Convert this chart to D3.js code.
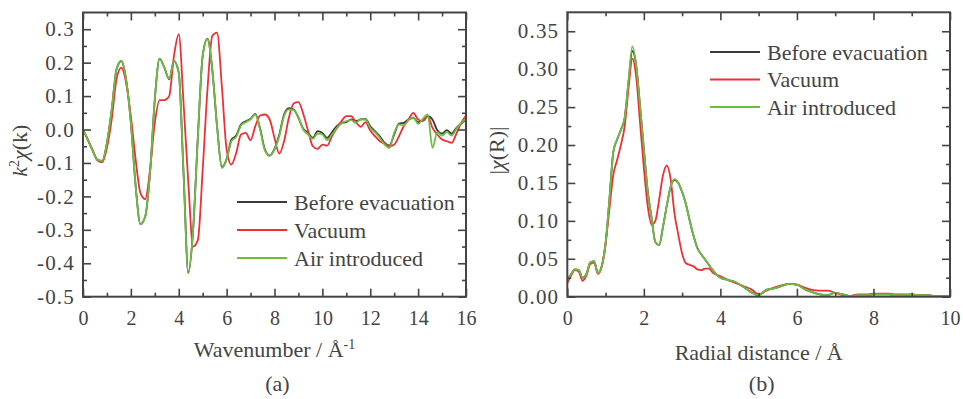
<!DOCTYPE html>
<html>
<head>
<meta charset="utf-8">
<script src="https://cdnjs.cloudflare.com/ajax/libs/d3/7.8.5/d3.min.js"></script>
<style>
  body { margin: 0; background: #fff; }
  svg { display: block; font-family: "Liberation Serif", "Times New Roman", serif; }
</style>
</head>
<body>
<svg id="chart" width="963" height="399"></svg>
<script>
// Panel (a): k-space EXAFS, sampled every 0.2 A^-1 from 0 to 16
var kValues = d3.range(0, 81).map(function(i) { return +(i * 0.2).toFixed(1); });

var kBefore = [
   0.000,-0.030,-0.062,-0.090,-0.094,-0.040, 0.060, 0.180, 0.205, 0.150,
   0.020,-0.170,-0.283,-0.260,-0.130, 0.090, 0.212, 0.185, 0.150, 0.205,
   0.170,-0.130,-0.428,-0.300,-0.020, 0.220, 0.272, 0.180, 0.010,-0.112,
  -0.088,-0.030,-0.018, 0.015, 0.025, 0.032, 0.047, 0.002,-0.060,-0.078,
  -0.058,-0.015, 0.045, 0.064, 0.060, 0.035, 0.002,-0.010,-0.025,-0.005,
  -0.010,-0.025,-0.008, 0.010, 0.020, 0.022, 0.030, 0.025, 0.030, 0.032,
   0.010,-0.005,-0.020,-0.040,-0.048,-0.015, 0.018, 0.020, 0.030, 0.035,
   0.022, 0.028, 0.040, 0.030,-0.002,-0.012,-0.002,-0.012, 0.005, 0.018,
   0.030];

var kVacuum = [
   0.000,-0.030,-0.062,-0.092,-0.098,-0.055, 0.030, 0.150, 0.185, 0.140,
   0.040,-0.090,-0.190,-0.208,-0.120, 0.020, 0.088, 0.088, 0.100, 0.220,
   0.285, 0.080,-0.160,-0.350,-0.330,-0.120, 0.120, 0.280, 0.290, 0.130,
  -0.060,-0.105,-0.070,-0.015,-0.010,-0.032, 0.010, 0.042, 0.045, 0.030,
  -0.025,-0.072,-0.035, 0.035, 0.078, 0.082, 0.047,-0.003,-0.050,-0.058,
  -0.045,-0.048,-0.020, 0.004, 0.025, 0.040, 0.040, 0.022, 0.008, 0.022,
  -0.003,-0.020,-0.035,-0.042,-0.050,-0.045,-0.020, 0.010, 0.030, 0.050,
   0.030, 0.025, 0.040, 0.005,-0.015,-0.030,-0.035,-0.040,-0.012, 0.020,
   0.042];

var kAir = [
   0.000,-0.030,-0.062,-0.090,-0.094,-0.040, 0.060, 0.180, 0.205, 0.150,
   0.020,-0.170,-0.283,-0.260,-0.130, 0.090, 0.212, 0.185, 0.152, 0.205,
   0.170,-0.130,-0.430,-0.300,-0.020, 0.220, 0.270, 0.180, 0.010,-0.115,
  -0.090,-0.035,-0.022, 0.012, 0.022, 0.030, 0.045, 0.000,-0.063,-0.077,
  -0.060,-0.020, 0.040, 0.060, 0.058, 0.037, 0.000,-0.015,-0.028,-0.012,
  -0.015,-0.032,-0.015, 0.004, 0.018, 0.025, 0.028, 0.020, 0.030, 0.030,
   0.005,-0.008,-0.025,-0.045,-0.055,-0.010, 0.015, 0.012, 0.028, 0.036,
   0.017, 0.032, 0.045,-0.055,-0.008,-0.018,-0.008,-0.018, 0.002, 0.020,
   0.032];

// Panel (b): R-space magnitude, 0.1 A steps to 4 A then 0.2 A steps to 10 A
var rValues = d3.range(0, 41).map(function(i) { return +(i * 0.1).toFixed(1); })
  .concat(d3.range(1, 31).map(function(i) { return +(4 + i * 0.2).toFixed(1); }));

var rBefore = [
  0.022,0.030,0.036,0.035,0.025,0.030,0.045,0.047,0.031,0.040,
  0.070,0.128,0.190,0.207,0.220,0.236,0.283,0.324,0.305,0.252,
  0.195,0.140,0.105,0.072,0.068,0.092,0.120,0.145,0.154,0.150,
  0.138,0.122,0.100,0.080,0.064,0.056,0.049,0.042,0.035,0.029,
  0.025,
  0.022,0.019,0.013,0.006,0.002,0.009,0.011,0.014,0.017,0.016,
  0.010,0.006,0.003,0.002,0.005,0.003,0.001,0.002,0.002,0.003,
  0.003,0.003,0.002,0.002,0.003,0.002,0.002,0.001,0.001,0.001];

var rVacuum = [
  0.018,0.028,0.035,0.033,0.021,0.028,0.043,0.045,0.030,0.040,
  0.070,0.115,0.160,0.180,0.200,0.225,0.275,0.314,0.290,0.230,
  0.170,0.120,0.095,0.100,0.128,0.160,0.173,0.155,0.110,0.082,
  0.057,0.044,0.042,0.040,0.036,0.035,0.037,0.037,0.032,0.029,
  0.027,
  0.022,0.018,0.014,0.010,0.003,0.008,0.012,0.015,0.017,0.016,
  0.012,0.009,0.008,0.008,0.005,0.002,0.001,0.003,0.003,0.004,
  0.004,0.004,0.003,0.003,0.003,0.002,0.002,0.001,0.001,0.001];

var rAir = [
  0.022,0.030,0.036,0.035,0.025,0.030,0.045,0.047,0.031,0.040,
  0.070,0.128,0.190,0.207,0.220,0.236,0.285,0.330,0.305,0.252,
  0.195,0.140,0.105,0.072,0.068,0.092,0.120,0.145,0.155,0.150,
  0.138,0.122,0.100,0.080,0.064,0.056,0.049,0.042,0.035,0.029,
  0.025,
  0.022,0.019,0.013,0.006,0.002,0.009,0.011,0.014,0.017,0.016,
  0.010,0.006,0.003,0.002,0.005,0.003,0.001,0.002,0.002,0.003,
  0.003,0.003,0.002,0.002,0.003,0.002,0.002,0.001,0.001,0.001];

var seriesNames = ["Before evacuation", "Vacuum", "Air introduced"];
var seriesColors = ["#3a3a3a", "#ee2f35", "#6dbd43"];

// Tick values
var kTicksMajor = [0, 2, 4, 6, 8, 10, 12, 14, 16];
var kTicksMinor = [1, 3, 5, 7, 9, 11, 13, 15];
var chiTicksMajor = [-0.5, -0.4, -0.3, -0.2, -0.1, 0.0, 0.1, 0.2, 0.3];
var chiTicksMinor = [-0.45, -0.35, -0.25, -0.15, -0.05, 0.05, 0.15, 0.25];
var rTicksMajor = [0, 2, 4, 6, 8, 10];
var rTicksMinor = [1, 3, 5, 7, 9];
var magTicksMajor = [0, 0.05, 0.10, 0.15, 0.20, 0.25, 0.30, 0.35];
var magTicksMinor = [0.025, 0.075, 0.125, 0.175, 0.225, 0.275, 0.325];

var svg = d3.select("#chart");
var ink = "#444";

function drawPanel(o) {
  var x = d3.scaleLinear().domain(o.xDomain).range([o.left, o.right]);
  var y = d3.scaleLinear().domain(o.yDomain).range([o.bottom, o.top]);
  var g = svg.append("g");

  // curves: black first, green on top
  var line = d3.line()
    .x(function(d) { return x(d[0]); })
    .y(function(d) { return y(d[1]); })
    .curve(d3.curveMonotoneX);

  var clipId = "clip-" + o.id;
  svg.append("clipPath").attr("id", clipId)
    .append("rect")
    .attr("x", o.left).attr("y", o.top)
    .attr("width", o.right - o.left).attr("height", o.bottom - o.top);

  o.series.forEach(function(vals, i) {
    g.append("path")
      .datum(o.xs.map(function(v, j) { return [v, vals[j]]; }))
      .attr("clip-path", "url(#" + clipId + ")")
      .attr("fill", "none")
      .attr("stroke", seriesColors[i])
      .attr("stroke-width", 1.8)
      .attr("stroke-linejoin", "round")
      .attr("d", line);
  });

  // axes on all four sides, ticks pointing inward
  function styleAxis(sel) {
    sel.select(".domain").remove();
    sel.selectAll(".tick line").attr("stroke", ink).attr("stroke-width", 1.6);
    sel.selectAll("text").attr("fill", ink).attr("font-size", 20)
      .attr("font-family", "Liberation Serif, Times New Roman, serif");
  }

  g.append("g").attr("transform", "translate(0," + o.bottom + ")")
    .call(d3.axisBottom(x).tickValues(o.xMajor).tickSize(-8).tickPadding(14).tickFormat(o.xFormat))
    .call(styleAxis);
  g.append("g").attr("transform", "translate(0," + o.bottom + ")")
    .call(d3.axisBottom(x).tickValues(o.xMinor).tickSize(-4).tickFormat(""))
    .call(styleAxis);
  g.append("g").attr("transform", "translate(0," + o.top + ")")
    .call(d3.axisTop(x).tickValues(o.xMajor).tickSize(-8).tickFormat(""))
    .call(styleAxis);
  g.append("g").attr("transform", "translate(0," + o.top + ")")
    .call(d3.axisTop(x).tickValues(o.xMinor).tickSize(-4).tickFormat(""))
    .call(styleAxis);

  g.append("g").attr("transform", "translate(" + o.left + ",0)")
    .call(d3.axisLeft(y).tickValues(o.yMajor).tickSize(-8).tickPadding(8).tickFormat(o.yFormat))
    .call(styleAxis)
    .call(function(sel) {
      sel.selectAll("text").attr("font-size", 21).attr("letter-spacing", 1.2);
    });
  g.append("g").attr("transform", "translate(" + o.left + ",0)")
    .call(d3.axisLeft(y).tickValues(o.yMinor).tickSize(-4).tickFormat(""))
    .call(styleAxis);
  g.append("g").attr("transform", "translate(" + o.right + ",0)")
    .call(d3.axisRight(y).tickValues(o.yMajor).tickSize(-8).tickFormat(""))
    .call(styleAxis);
  g.append("g").attr("transform", "translate(" + o.right + ",0)")
    .call(d3.axisRight(y).tickValues(o.yMinor).tickSize(-4).tickFormat(""))
    .call(styleAxis);

  // frame
  g.append("rect")
    .attr("x", o.left).attr("y", o.top)
    .attr("width", o.right - o.left).attr("height", o.bottom - o.top)
    .attr("fill", "none").attr("stroke", ink).attr("stroke-width", 2);

  // legend
  seriesNames.forEach(function(name, i) {
    var ly = o.legendY + i * o.legendStep;
    g.append("line")
      .attr("x1", o.legendX).attr("x2", o.legendX + 50)
      .attr("y1", ly).attr("y2", ly)
      .attr("stroke", seriesColors[i]).attr("stroke-width", 1.8);
    g.append("text")
      .attr("x", o.legendX + 57).attr("y", ly).attr("dy", "0.35em")
      .attr("font-size", 22).attr("fill", ink)
      .text(name);
  });

  // x title
  var xt = g.append("text")
    .attr("x", (o.left + o.right) / 2).attr("y", o.xTitleY)
    .attr("text-anchor", "middle").attr("font-size", 22).attr("fill", ink);
  o.xTitle(xt);

  // y title
  var yt = g.append("text")
    .attr("transform", "translate(" + o.yTitleX + "," + ((o.top + o.bottom) / 2 - 4) + ") rotate(-90)")
    .attr("text-anchor", "middle").attr("font-size", 22).attr("fill", ink);
  o.yTitle(yt);

  // panel letter
  g.append("text")
    .attr("x", (o.left + o.right) / 2 + 3).attr("y", 391)
    .attr("text-anchor", "middle").attr("font-size", 22).attr("fill", ink)
    .text(o.letter);
}

drawPanel({
  id: "a",
  left: 83, right: 466, top: 12.5, bottom: 296.7,
  xDomain: [0, 16], yDomain: [-0.5, 0.35],
  xs: kValues, series: [kBefore, kVacuum, kAir],
  xMajor: kTicksMajor, xMinor: kTicksMinor,
  yMajor: chiTicksMajor, yMinor: chiTicksMinor,
  xFormat: function(d) { return d; },
  yFormat: function(d) { return d.toFixed(1); },
  legendX: 237, legendY: 202, legendStep: 28,
  xTitleY: 357, yTitleX: 27,
  xTitle: function(t) {
    t.append("tspan").text("Wavenumber / Å");
    t.append("tspan").attr("dy", -8).attr("font-size", 14).text("-1");
  },
  yTitle: function(t) {
    t.append("tspan").attr("font-style", "italic").text("k");
    t.append("tspan").attr("dy", -8).attr("font-size", 14).text("2");
    t.append("tspan").attr("dy", 8).attr("font-style", "italic").text("χ");
    t.append("tspan").text("(k)");
  },
  letter: "(a)"
});

drawPanel({
  id: "b",
  left: 567.3, right: 950, top: 12.3, bottom: 296.7,
  xDomain: [0, 10], yDomain: [0, 0.375],
  xs: rValues, series: [rBefore, rVacuum, rAir],
  xMajor: rTicksMajor, xMinor: rTicksMinor,
  yMajor: magTicksMajor, yMinor: magTicksMinor,
  xFormat: function(d) { return d; },
  yFormat: function(d) { return d.toFixed(2); },
  legendX: 710, legendY: 52, legendStep: 27.5,
  xTitleY: 360, yTitleX: 504,
  xTitle: function(t) { t.text("Radial distance / Å"); },
  yTitle: function(t) {
    t.append("tspan").text("|");
    t.append("tspan").attr("font-style", "italic").text("χ");
    t.append("tspan").text("(R)|");
  },
  letter: "(b)"
});
</script>
</body>
</html>
